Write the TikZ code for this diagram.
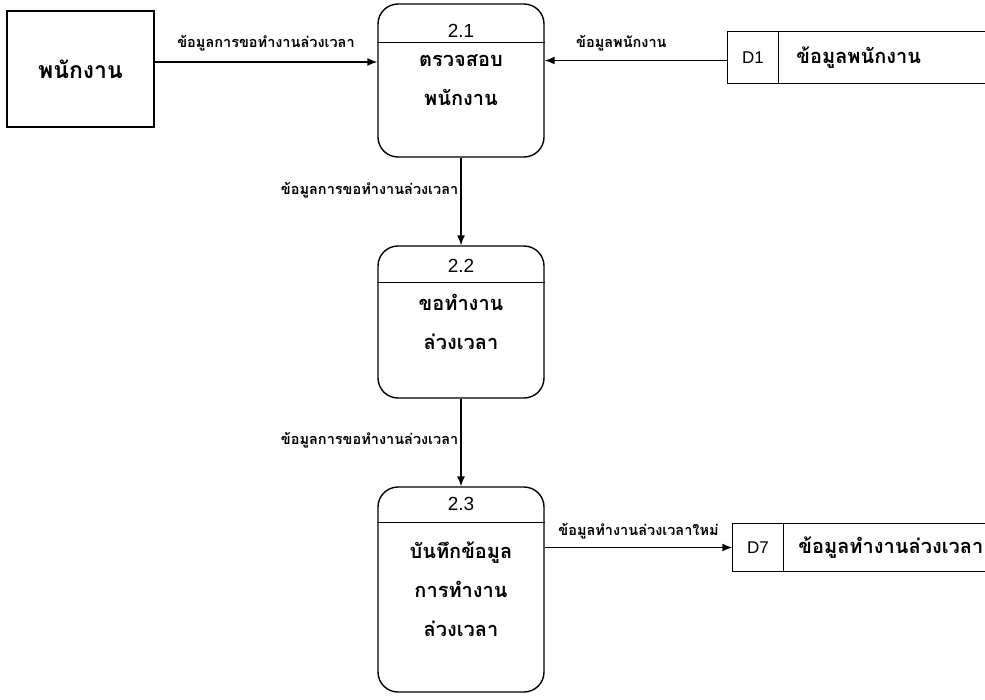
\documentclass[tikz,border=0pt]{standalone}
\usepackage{fontspec}
\setmainfont{Liberation Sans}
\newfontfamily\thaifont[Script=Thai]{Loma}
\usetikzlibrary{arrows.meta}
\usetikzlibrary{positioning}

\begin{document}
\begin{tikzpicture}
    [%
        x=1pt,%
        y=-1pt,%
        line width=1.4pt,%
        entity/.style={%
            draw,%
            minimum width=147pt,%
            minimum height=116pt,%
            font=\thaifont\bfseries\fontsize{23}{26}\selectfont%
        },%
        process/.style={%
            draw,%
            rounded corners=20pt,%
            minimum width=166pt,%
            align=center,%
            font=\thaifont\bfseries\fontsize{20}{39}\selectfont%
        },%
        procid/.style={%
            inner sep=0pt,%
            font=\fontsize{19}{22}\selectfont%
        },%
        store/.style={%
            inner sep=0pt%
        },%
        storeid/.style={%
            inner sep=0pt,%
            minimum width=50pt,%
            font=\fontsize{17}{20}\selectfont%
        },%
        storename/.style={%
            inner sep=0pt,%
            font=\thaifont\bfseries\fontsize{20}{24}\selectfont%
        },%
        flow/.style={%
            -{Latex[length=10pt,width=8pt]}%
        },%
        flowtext/.style={%
            inner sep=2pt,%
            font=\thaifont\bfseries\fontsize{14.5}{16}\selectfont%
        }%
    ]%
    \useasboundingbox (0,0) rectangle (985,699);
%
    % external entity
    \node[entity] (staff) at (80.5,69) {พนักงาน};
%
    % processes
    \node[process, minimum height=153pt] (check) at (461,80.5)
        {ตรวจสอบ\\พนักงาน};
    \node[process, minimum height=152pt] (request) at (461,322)
        {ขอทำงาน\\ล่วงเวลา};
    \node[process, minimum height=205pt] (record) at (461,589.5)
        {บันทึกข้อมูล\\การทำงาน\\ล่วงเวลา};
    \node[procid] (check-id) at ([yshift=-28pt]check.north) {2.1};
    \node[procid] (request-id) at ([yshift=-21pt]request.north) {2.2};
    \node[procid] (record-id) at ([yshift=-18pt]record.north) {2.3};
    \foreach \p/\d in {check/39,request/37,record/36}
        \draw ([yshift=-\d pt]\p.north west) -- ([yshift=-\d pt]\p.north east);
%
    % data stores
    \node[store, minimum width=257pt, minimum height=51pt] (staff-store) at (856.5,57.5) {};
    \node[storeid, anchor=west, minimum height=51pt] (staff-store-id) at (staff-store.west) {D1};
    \node[storename, right=17pt of staff-store-id] (staff-store-name) {ข้อมูลพนักงาน};
    \node[store, minimum width=252pt, minimum height=47pt] (ot-store) at (859,547.5) {};
    \node[storeid, anchor=west, minimum height=47pt] (ot-store-id) at (ot-store.west) {D7};
    \node[storename, right=14pt of ot-store-id] (ot-store-name) {ข้อมูลทำงานล่วงเวลา};
    \foreach \s in {staff-store,ot-store}{
        \draw (\s.north east) -- (\s.north west) -- (\s.south west) -- (\s.south east);
        \draw (\s-id.north east) -- (\s-id.south east);
    }
%
    % data flows
    \draw[flow] ([yshift=7pt]staff.east) coordinate (staff-out) -- (staff-out -| check.west)
        node[flowtext, midway, above=8pt] {ข้อมูลการขอทำงานล่วงเวลา};
    \draw[flow] ([yshift=-3pt]staff-store.west) coordinate (store-out) -- (store-out -| check.east)
        node[flowtext, pos=0.58, above=7pt] {ข้อมูลพนักงาน};
    \draw[flow] (check) -- (request)
        node[flowtext, pos=0.37, left] {ข้อมูลการขอทำงานล่วงเวลา};
    \draw[flow] (request) -- (record)
        node[flowtext, pos=0.47, left] {ข้อมูลการขอทำงานล่วงเวลา};
    \draw[flow] (ot-store.west -| record.east) -- (ot-store.west)
        node[flowtext, midway, above=6pt] {ข้อมูลทำงานล่วงเวลาใหม่};
\end{tikzpicture}
\end{document}
